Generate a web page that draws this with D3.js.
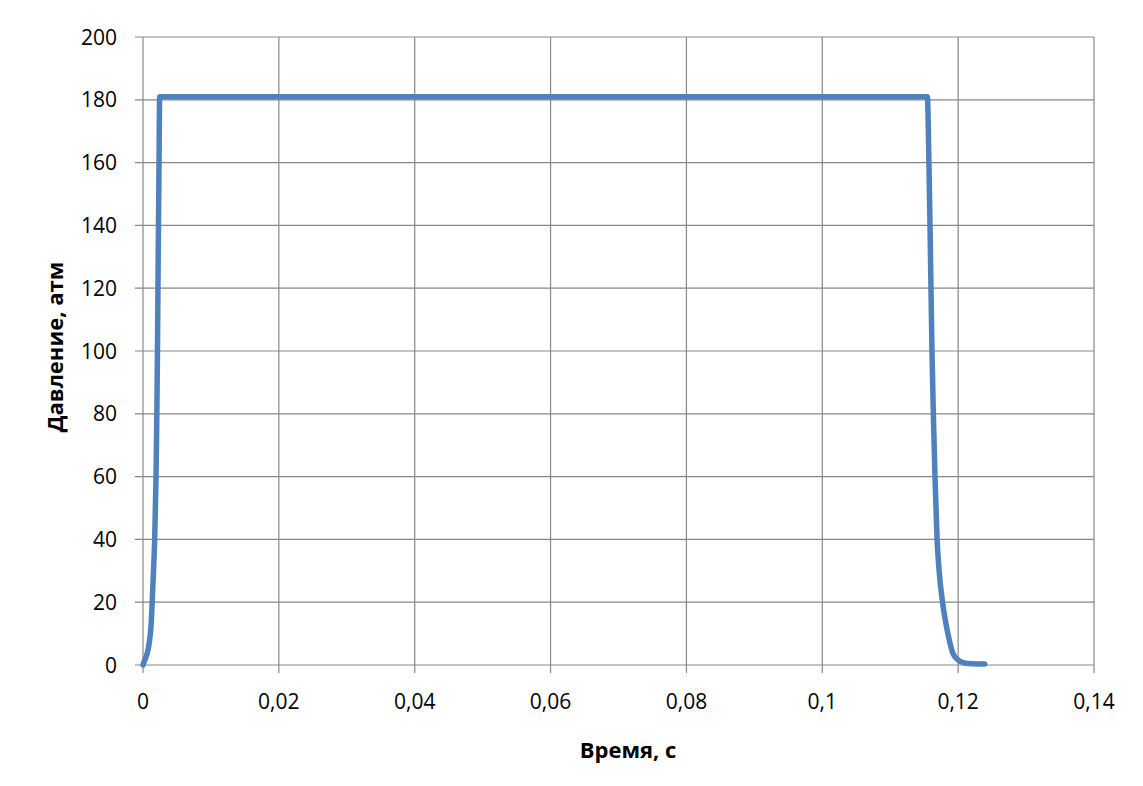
<!DOCTYPE html>
<html><head><meta charset="utf-8">
<script src="https://cdn.jsdelivr.net/npm/d3@7"></script>
<style>body{margin:0;background:#fff}svg{display:block}</style>
</head><body>
<svg id="c" width="1143" height="786"></svg>
<script>
const timeValues = [0, 0.00025, 0.00065, 0.00098, 0.0012, 0.00135, 0.00155, 0.00172, 0.00192, 0.00204, 0.00213, 0.0022, 0.00228, 0.00236, 0.00245,
  0.11547, 0.1157, 0.11586, 0.1160, 0.11615, 0.11635, 0.11659, 0.1169, 0.1172, 0.1177, 0.1183, 0.1188, 0.1192, 0.1200, 0.1207, 0.1215, 0.1239];
const pressureValues = [0, 1.5, 4, 8, 13, 20, 30, 40, 60, 80, 100, 120, 140, 160, 181,
  181, 160, 140, 120, 100, 80, 60, 40, 30, 20, 12, 7, 3.8, 1.6, 0.8, 0.5, 0.3];
const xTicks = [0, 0.02, 0.04, 0.06, 0.08, 0.1, 0.12, 0.14];
const xTickLabels = ["0", "0,02", "0,04", "0,06", "0,08", "0,1", "0,12", "0,14"];
const yTicks = [0, 20, 40, 60, 80, 100, 120, 140, 160, 180, 200];
const xTitle = "Время, с";
const yTitle = "Давление, атм";

const svg = d3.select("#c");
const L = 143, R = 1094, T = 37, B = 665;
const x = d3.scaleLinear().domain([0, 0.14]).range([L, R]);
const y = d3.scaleLinear().domain([0, 200]).range([B, T]);
const font = "'Open Sans', 'Noto Sans', sans-serif";
const grid = "#878787";

const g = svg.append("g");
g.selectAll(".gx").data(xTicks).join("line")
  .attr("x1", d => x(d)).attr("x2", d => x(d)).attr("y1", T).attr("y2", B + 8)
  .attr("stroke", grid).attr("stroke-width", 1.2);
g.selectAll(".gy").data(yTicks).join("line")
  .attr("y1", d => y(d)).attr("y2", d => y(d)).attr("x1", L - 8).attr("x2", R)
  .attr("stroke", grid).attr("stroke-width", 1.2);

g.selectAll(".tx").data(xTicks).join("text")
  .attr("x", d => x(d)).attr("y", B + 44).attr("text-anchor", "middle")
  .attr("font-family", font).attr("font-size", 21).attr("fill", "#000")
  .text((d, i) => xTickLabels[i]);
g.selectAll(".ty").data(yTicks).join("text")
  .attr("x", L - 26).attr("y", d => y(d) + 7.5).attr("text-anchor", "end")
  .attr("font-family", font).attr("font-size", 21).attr("fill", "#000")
  .text(d => d);

svg.append("text").attr("x", 628).attr("y", 758).attr("text-anchor", "middle")
  .attr("font-family", font).attr("font-size", 22).attr("font-weight", "bold").text(xTitle);
svg.append("text").attr("transform", "translate(63,347) rotate(-90)").attr("text-anchor", "middle")
  .attr("font-family", font).attr("font-size", 22).attr("font-weight", "bold").text(yTitle);

const data = timeValues.map((t, i) => [t, pressureValues[i]]);
svg.append("path").datum(data)
  .attr("d", d3.line().x(d => x(d[0])).y(d => y(d[1])).curve(d3.curveMonotoneX))
  .attr("fill", "none").attr("stroke", "#4F81BD").attr("stroke-width", 5.5)
  .attr("stroke-linejoin", "round").attr("stroke-linecap", "round");
</script>
</body></html>
